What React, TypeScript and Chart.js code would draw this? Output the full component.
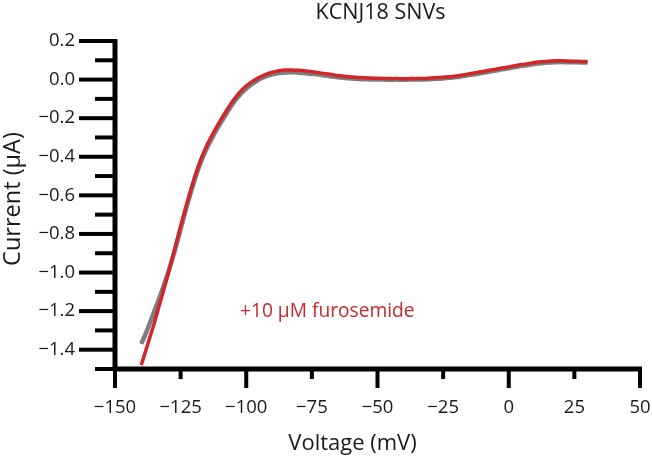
import { useEffect, useRef } from "react";
import { Chart, registerables } from "chart.js";

Chart.register(...registerables);

const chartTitle = "KCNJ18 SNVs";
const xTitle = "Voltage (mV)";
const yTitle = "Current (μA)";
const annotationText = "+10 μM furosemide";

const voltages = [
  -140, -137.5, -135, -132.5, -130, -127.5, -125, -122.5, -120, -117.5,
  -115, -112.5, -110, -107.5, -105, -102.5, -100, -97.5, -95, -92.5,
  -90, -87.5, -85, -82.5, -80, -77.5, -75, -72.5, -70, -67.5,
  -65, -62.5, -60, -57.5, -55, -52.5, -50, -47.5, -45, -42.5,
  -40, -37.5, -35, -32.5, -30, -27.5, -25, -22.5, -20, -17.5,
  -15, -12.5, -10, -7.5, -5, -2.5, 0, 2.5, 5, 7.5,
  10, 12.5, 15, 17.5, 20, 22.5, 25, 27.5, 30,
];

const currentFurosemide = [
  -1.48, -1.37, -1.26, -1.14, -1.02, -0.89, -0.76, -0.635, -0.52, -0.42,
  -0.34, -0.275, -0.215, -0.16, -0.108, -0.066, -0.032, -0.008, 0.012, 0.027,
  0.038, 0.046, 0.05, 0.05, 0.048, 0.045, 0.041, 0.036, 0.031, 0.026,
  0.021, 0.017, 0.013, 0.011, 0.009, 0.008, 0.007, 0.006, 0.005, 0.005,
  0.004, 0.005, 0.005, 0.006, 0.008, 0.01, 0.012, 0.015, 0.019, 0.024,
  0.03, 0.036, 0.042, 0.048, 0.054, 0.06, 0.066, 0.072, 0.078, 0.083,
  0.088, 0.092, 0.095, 0.097, 0.097, 0.096, 0.095, 0.094, 0.093,
];

const currentControl = [
  -1.37, -1.29, -1.2, -1.11, -1.01, -0.9, -0.775, -0.65, -0.535, -0.435,
  -0.355, -0.29, -0.23, -0.175, -0.122, -0.08, -0.046, -0.02, 0.002, 0.017,
  0.027, 0.034, 0.037, 0.038, 0.036, 0.033, 0.03, 0.026, 0.021, 0.016,
  0.012, 0.008, 0.005, 0.003, 0.002, 0.001, 0.0, 0.0, -0.001, 0.0,
  -0.001, 0.0, 0.0, 0.0, 0.002, 0.004, 0.006, 0.009, 0.013, 0.018,
  0.023, 0.029, 0.035, 0.041, 0.047, 0.053, 0.059, 0.065, 0.071, 0.076,
  0.081, 0.085, 0.088, 0.09, 0.091, 0.09, 0.09, 0.089, 0.089,
];

const xMin = -150;
const xMax = 50;
const xStep = 25;
const yMin = -1.5;
const yMax = 0.2;
const yStep = 0.1;

const annotationX = -102.4;
const annotationY = -1.23;

const FONT = "'Open Sans', 'DejaVu Sans', sans-serif";
const TEXT = "#1a1a1a";
const RED = "#d2262b";
const GREY = "#7d7d7d";

const minus = (s: string) => s.replace("-", "\u2212");

const customAxes = {
  id: "customAxes",
  afterDatasetsDraw(chart: any) {
    const { ctx, scales } = chart;
    const x = scales.x;
    const y = scales.y;
    const ax = x.getPixelForValue(xMin);
    const ay = y.getPixelForValue(yMin);
    const top = y.getPixelForValue(yMax);
    ctx.save();
    ctx.fillStyle = "#000";
    // axis lines
    ctx.fillRect(ax - 2.5, top - 2, 5, ay - top + 4);
    ctx.fillRect(ax - 2, ay - 2.5, x.getPixelForValue(xMax) - ax + 4, 5);
    // y ticks
    y.ticks.forEach((t: any) => {
      const py = y.getPixelForValue(t.value);
      const major = Math.round(t.value * 10) % 2 === 0;
      const len = major ? 36 : 20;
      ctx.fillRect(ax - len, py - 2, len, 4);
    });
    // x ticks
    x.ticks.forEach((t: any) => {
      const px = x.getPixelForValue(t.value);
      const major = Math.round(t.value / xStep) % 2 === 0;
      const len = major ? 19 : 10;
      ctx.fillRect(px - 2, ay, 4, len);
    });
    // chart title
    ctx.fillStyle = TEXT;
    ctx.font = `21.5px ${FONT}`;
    ctx.textAlign = "center";
    ctx.textBaseline = "alphabetic";
    ctx.fillText(chartTitle, (x.left + x.right) / 2 + 3, 19);
    // x axis title
    ctx.font = `22px ${FONT}`;
    ctx.fillText(xTitle, (x.left + x.right) / 2 - 25, 450);
    // y axis title
    ctx.save();
    ctx.font = `23.5px ${FONT}`;
    ctx.translate(20, (y.top + y.bottom) / 2 - 6);
    ctx.rotate(-Math.PI / 2);
    ctx.fillText(yTitle, 0, 0);
    ctx.restore();
    // annotation
    ctx.fillStyle = "#c5282e";
    ctx.font = `19.2px ${FONT}`;
    ctx.textAlign = "left";
    ctx.fillText(annotationText, x.getPixelForValue(annotationX), y.getPixelForValue(annotationY));
    ctx.restore();
  },
};

export default function App() {
  const ref = useRef<HTMLCanvasElement | null>(null);

  useEffect(() => {
    const canvas = ref.current;
    if (!canvas) return;
    const chart = new Chart(canvas, {
      type: "line",
      data: {
        labels: voltages,
        datasets: [
          {
            label: "+10 μM furosemide",
            data: voltages.map((v, i) => ({ x: v, y: currentFurosemide[i] })),
            borderColor: RED,
            borderWidth: 3.5,
            pointRadius: 0,
            tension: 0.3,
            fill: false,
          },
          {
            label: "Control",
            data: voltages.map((v, i) => ({ x: v, y: currentControl[i] })),
            borderColor: GREY,
            borderWidth: 4.5,
            pointRadius: 0,
            tension: 0.3,
            fill: false,
          },
        ],
      },
      options: {
        animation: false,
        responsive: false,
        maintainAspectRatio: false,
        layout: { padding: { top: 41, right: 12, left: 0, bottom: 0 } },
        plugins: {
          legend: { display: false },
          tooltip: { enabled: false },
          title: { display: false },
        },
        scales: {
          x: {
            type: "linear",
            min: xMin,
            max: xMax,
            afterFit: (s: any) => {
              s.height = 87;
              s.paddingLeft = 0;
              s.paddingRight = 0;
            },
            grid: { display: false, drawTicks: false },
            border: { display: false },
            ticks: {
              stepSize: xStep,
              padding: 28,
              autoSkip: false,
              maxRotation: 0,
              color: TEXT,
              font: { family: FONT, size: 18.5 },
              callback: (v: any) => minus(String(Math.round(Number(v)))),
            },
            title: { display: false },
          },
          y: {
            type: "linear",
            min: yMin,
            max: yMax,
            afterFit: (s: any) => {
              s.width = 115;
              s.paddingTop = 0;
              s.paddingBottom = 0;
            },
            grid: { display: false, drawTicks: false },
            border: { display: false },
            ticks: {
              stepSize: yStep,
              padding: 40,
              autoSkip: false,
              color: TEXT,
              font: { family: FONT, size: 18.5 },
              callback: (v: any) => {
                const n = Math.round(Number(v) * 10);
                if (n % 2 !== 0) return "";
                return minus((n / 10).toFixed(1));
              },
            },
            title: { display: false },
          },
        },
      },
      plugins: [customAxes],
    });
    return () => chart.destroy();
  }, []);

  return (
    <div style={{ position: "fixed", left: 0, top: 0, width: 652, height: 456, background: "#fff" }}>
      <canvas ref={ref} width={652} height={456} />
    </div>
  );
}
